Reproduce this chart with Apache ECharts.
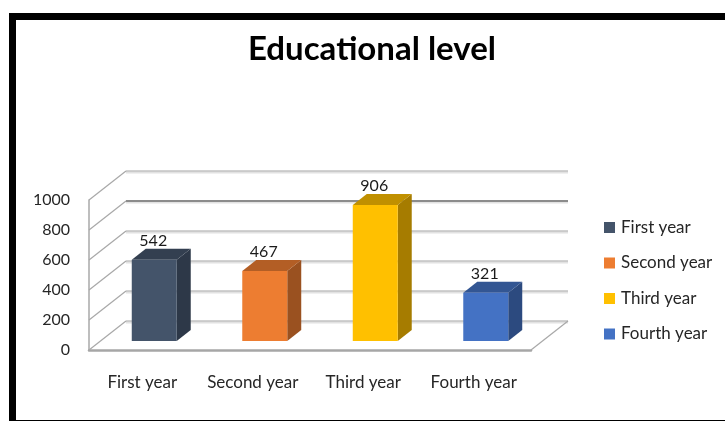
<!DOCTYPE html>
<html><head><meta charset="utf-8">
<style>html,body{margin:0;padding:0;background:#fff}#c{width:725px;height:421px}</style>
<script src="https://cdn.jsdelivr.net/npm/echarts@6/dist/echarts.min.js"></script>
</head><body><div id="c"></div>
<script>
const titleText = 'Educational level';
const categories = ['First year', 'Second year', 'Third year', 'Fourth year'];
const values = [542, 467, 906, 321];
const yTicks = [0, 200, 400, 600, 800, 1000];
const frontColors = ['#44546A', '#ED7D31', '#FFC000', '#4472C4'];
const topColors = ['#333F50', '#B35E25', '#C09000', '#335693'];
const sideColors = ['#2D3848', '#9A5120', '#A67C00', '#2C4A7F'];
const FONT = 'Lato, "Open Sans", sans-serif';
const WALL_DX = 37, WALL_DY = -29;

function renderWall(params, api) {
  const v = api.value(1);
  const cs = params.coordSys;
  const y = api.coord([0, v])[1];
  const x0 = cs.x, x1 = cs.x + cs.width;
  const bx0 = x0 + WALL_DX, bx1 = x1 + WALL_DX, by = y + WALL_DY;
  const dark = v === 800 ? '#8c8c8c' : '#a3a3a3';
  const kids = [
    {type:'line', shape:{x1:bx0, y1:by+1.5, x2:bx1, y2:by+1.5}, style:{stroke:'#e2e2e2', lineWidth:2}},
    {type:'line', shape:{x1:bx0, y1:by, x2:bx1, y2:by}, style:{stroke:dark, lineWidth:v === 800 ? 2 : 1.2}},
    {type:'line', shape:{x1:x0, y1:y, x2:bx0, y2:by}, style:{stroke:'#a8a8a8', lineWidth:1.2}}
  ];
  if (v === 0) kids.push({type:'line', shape:{x1:x1, y1:y, x2:bx1, y2:by}, style:{stroke:'#a8a8a8', lineWidth:1.2}});
  return {type:'group', children:kids};
}

function barSeries(name, i) {
  return {
    name, type:'custom', coordinateSystem:'cartesian2d', z:5,
    itemStyle:{color:frontColors[i]},
    encode:{x:0, y:1},
    data:[[i, values[i]]],
    silent:true,
    renderItem(params, api) {
      const idx = api.value(0), val = api.value(1);
      const band = api.size([1, 0])[0];
      const w = band * 0.407, dx = 14, dy = -11, lift = 9, shift = 10;
      const cx = api.coord([idx, 0])[0] + shift;
      const base = api.coord([idx, 0])[1] - lift;
      const top = api.coord([idx, val])[1] - lift;
      const l = cx - w / 2, r = cx + w / 2;
      return {type:'group', children:[
        {type:'text', z2:1, style:{text:String(val), x:cx-1, y:top-19, align:'center', verticalAlign:'middle', fill:'#1a1a1a', font:'16px ' + FONT}},
        {type:'polygon', z2:2, shape:{points:[[r,base],[r+dx,base+dy],[r+dx,top+dy],[r,top]]}, style:{fill:sideColors[idx]}},
        {type:'polygon', z2:2, shape:{points:[[l,top],[l+dx,top+dy],[r+dx,top+dy],[r,top]]}, style:{fill:topColors[idx]}},
        {type:'rect', z2:3, shape:{x:l, y:top, width:w, height:base-top}, style:{fill:frontColors[idx]}}
      ]};
    }
  };
}

const chart = echarts.init(document.getElementById('c'), null, {renderer:'canvas'});
chart.setOption({
  animation:false,
  backgroundColor:'#fff',
  title:{text:titleText, left:367, textAlign:'center', top:28,
    textStyle:{fontFamily:FONT, fontSize:33, fontWeight:'bold', color:'#000'}},
  grid:{left:89, right:194, top:200, bottom:71},
  xAxis:{type:'category', data:categories,
    axisLine:{show:true, lineStyle:{color:'#a6a6a6', width:2.5}},
    axisTick:{show:false},
    axisLabel:{interval:0, margin:24, padding:[0,4,0,0], color:'#262626', fontFamily:FONT, fontSize:17}},
  yAxis:{type:'value', min:0, max:1000, interval:200,
    axisLine:{show:true, lineStyle:{color:'#a8a8a8', width:1.5}},
    axisTick:{show:false}, splitLine:{show:false},
    axisLabel:{margin:19, color:'#262626', fontFamily:FONT, fontSize:16, formatter:v=>String(v)}},
  legend:{data:categories, orient:'vertical', left:599, top:214, icon:'rect',
    itemWidth:11, itemHeight:11, itemGap:18.5, selectedMode:false,
    textStyle:{color:'#262626', fontFamily:FONT, fontSize:17, lineHeight:17, padding:[0,0,0,1]}},
  graphic:[
    {type:'rect', silent:true, z:100, shape:{x:9, y:13, width:716, height:7}, style:{fill:'#000'}},
    {type:'rect', silent:true, z:100, shape:{x:9, y:13, width:7, height:408}, style:{fill:'#000'}},
    {type:'rect', silent:true, z:100, shape:{x:9, y:420, width:716, height:1}, style:{fill:'#000'}}
  ],
  series:[
    {name:'walls', type:'custom', coordinateSystem:'cartesian2d', z:1, silent:true,
     encode:{y:1}, data:yTicks.map(t=>[0,t]), renderItem:renderWall},
    ...categories.map(barSeries)
  ]
});
</script></body></html>
